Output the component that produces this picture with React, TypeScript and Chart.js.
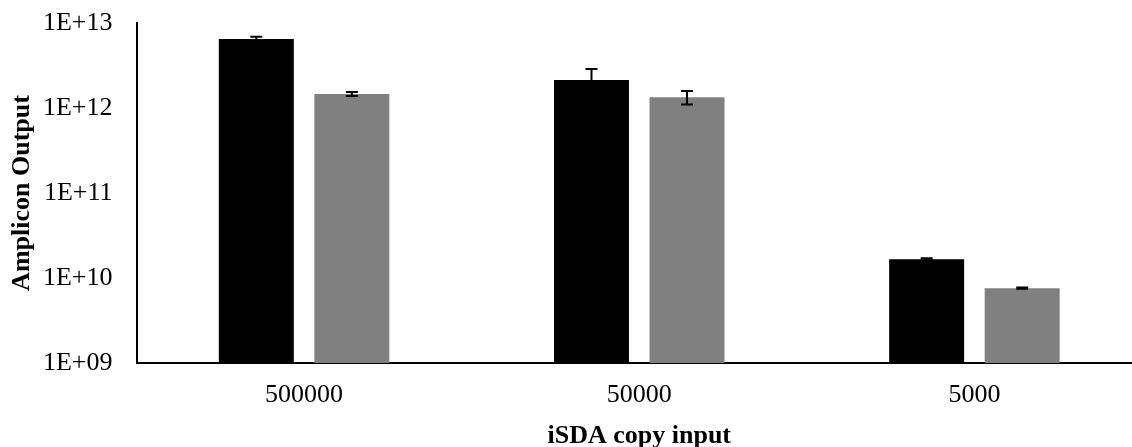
import React, { useEffect, useRef } from "react";
import { Chart, registerables } from "chart.js";

Chart.register(...registerables);

const categories = ["500000", "50000", "5000"];
const seriesBlack = [6.5e12, 2.13e12, 1.66e10];
const errorBlack = [0.4e12, 0.75e12, 0.05e10];
const seriesGray = [1.46e12, 1.34e12, 7.6e9];
const errorGray = [0.08e12, 0.24e12, 0.12e9];
const yTickValues = [1e9, 1e10, 1e11, 1e12, 1e13];
const yTickLabels = ["1E+09", "1E+10", "1E+11", "1E+12", "1E+13"];

const FONT = '"Liberation Serif", "Times New Roman", serif';

const errorBarPlugin = {
  id: "errorBars",
  afterDatasetsDraw(chart: any) {
    const ctx = chart.ctx;
    const yScale = chart.scales.y;
    chart.data.datasets.forEach((ds: any, di: number) => {
      const meta = chart.getDatasetMeta(di);
      const errs: number[] = ds.errors || [];
      meta.data.forEach((bar: any, i: number) => {
        const v = ds.data[i];
        const e = errs[i] || 0;
        const x = bar.x;
        const yTop = yScale.getPixelForValue(v + e);
        const yBot = yScale.getPixelForValue(Math.max(v - e, 1));
        ctx.save();
        ctx.strokeStyle = "#000";
        ctx.lineWidth = 2;
        ctx.beginPath();
        ctx.moveTo(x, yTop);
        ctx.lineTo(x, yBot);
        ctx.moveTo(x - 6, yTop);
        ctx.lineTo(x + 6, yTop);
        ctx.moveTo(x - 6, yBot);
        ctx.lineTo(x + 6, yBot);
        ctx.stroke();
        ctx.restore();
      });
    });
  },
};

export default function App() {
  const ref = useRef<HTMLCanvasElement | null>(null);
  useEffect(() => {
    if (!ref.current) return;
    const chart = new Chart(ref.current, {
      type: "bar",
      data: {
        labels: categories,
        datasets: [
          {
            label: "A",
            data: seriesBlack,
            errors: errorBlack,
            backgroundColor: "#000000",
            borderWidth: 0,
            categoryPercentage: 0.57,
            barPercentage: 0.785,
          } as any,
          {
            label: "B",
            data: seriesGray,
            errors: errorGray,
            backgroundColor: "#808080",
            borderWidth: 0,
            categoryPercentage: 0.57,
            barPercentage: 0.785,
          } as any,
        ],
      },
      options: {
        animation: false,
        responsive: false,
        layout: { padding: { top: 23, right: 0, left: 0, bottom: 0 } },
        plugins: {
          legend: { display: false },
          tooltip: { enabled: false },
        },
        scales: {
          x: {
            grid: { display: false, drawTicks: false },
            border: { display: true, color: "#000", width: 2 },
            ticks: {
              color: "#000",
              padding: 17,
              font: { family: FONT, size: 26 },
              maxRotation: 0,
            },
            title: {
              display: true,
              text: "iSDA copy input",
              color: "#000",
              font: { family: FONT, size: 26, weight: "bold", lineHeight: 1.2 },
              padding: { top: 0, bottom: -5 },
            },
            afterFit: (scale: any) => {
              scale.height = 84;
              scale.paddingLeft = 0;
              scale.paddingRight = 0;
            },
          },
          y: {
            type: "logarithmic",
            min: 1e9,
            max: 1e13,
            grid: { display: false, drawTicks: false },
            border: { display: true, color: "#000", width: 2 },
            ticks: {
              color: "#000",
              padding: 24,
              font: { family: FONT, size: 26 },
              callback: (v: any) => {
                const idx = yTickValues.indexOf(Number(v));
                return idx >= 0 ? yTickLabels[idx] : null;
              },
            },
            afterBuildTicks: (scale: any) => {
              scale.ticks = yTickValues.map((v) => ({ value: v }));
            },
            title: {
              display: true,
              text: "Amplicon Output",
              color: "#000",
              font: { family: FONT, size: 26, weight: "bold", lineHeight: 1.2 },
              padding: { top: 7, bottom: 0 },
            },
            afterFit: (scale: any) => {
              scale.width = 136.5;
              scale.paddingTop = 0;
              scale.paddingBottom = 0;
            },
          },
        },
      } as any,
      plugins: [errorBarPlugin],
    });
    return () => chart.destroy();
  }, []);
  return (
    <div
      style={{
        position: "fixed",
        left: 0,
        top: 0,
        width: 1132,
        height: 447,
        overflow: "hidden",
        background: "#fff",
      }}
    >
      <canvas ref={ref} width={1142} height={447} style={{ display: "block" }} />
    </div>
  );
}
